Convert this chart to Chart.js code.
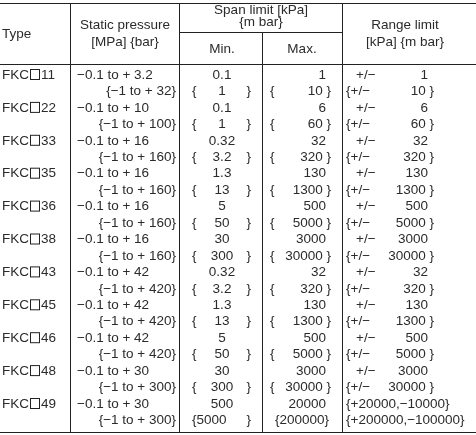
<!DOCTYPE html>
<html><head><meta charset="utf-8">
<script src="https://cdn.jsdelivr.net/npm/chart.js@4"></script>
<style>body{margin:0;background:#fff}#wrap{width:476px;height:435px}</style>
</head><body><div id="wrap"><canvas id="c"></canvas></div>
<script>
// table data, one entry per type
const types = ['11','22','33','35','36','38','43','45','46','48','49'];
const staticMPa = ['3.2','10','16','16','16','16','42','42','42','30','30'];
const staticBar = ['32','100','160','160','160','160','420','420','420','300','300'];
const minKPa = ['0.1','0.1','0.32','1.3','5','30','0.32','1.3','5','30','500'];
const minMbar = ['1','1','3.2','13','50','300','3.2','13','50','300','5000'];
const maxKPa = ['1','6','32','130','500','3000','32','130','500','3000','20000'];
const maxMbar = ['10','60','320','1300','5000','30000','320','1300','5000','30000','200000'];
const rangeKPa = ['1','6','32','130','500','3000','32','130','500','3000','+20000,\u221210000'];
const rangeMbar = ['10','60','320','1300','5000','30000','320','1300','5000','30000','+200000,\u2212100000'];

const FONT = '13.5px "Liberation Sans", Arial, sans-serif';
const INK = '#2b2b2b';

const tablePlugin = {
  id: 'table',
  afterDraw(chart) {
    const ctx = chart.ctx;
    ctx.save();
    ctx.strokeStyle = '#222';
    ctx.fillStyle = INK;
    ctx.font = FONT;
    ctx.textBaseline = 'middle';
    const line = (x1, y1, x2, y2, w) => {
      ctx.lineWidth = w || 1;
      ctx.beginPath(); ctx.moveTo(x1, y1); ctx.lineTo(x2, y2); ctx.stroke();
    };
    const txt = (s, x, y, align) => { ctx.textAlign = align || 'left'; ctx.fillText(s, x, y); };

    // rules
    line(0, 3.5, 476, 3.5);
    line(0, 64.5, 476, 64.5);
    line(179, 32.5, 342, 32.5);
    line(0, 432.5, 476, 432.5);
    line(70.5, 3, 70.5, 432);
    line(179.5, 3, 179.5, 432);
    line(262.5, 33, 262.5, 432);
    line(342.5, 3, 342.5, 432);

    // header
    txt('Type', 2, 34);
    txt('Static pressure', 125, 25, 'center');
    txt('[MPa] {bar}', 125, 42, 'center');
    txt('Span limit [kPa]', 261, 10, 'center');
    txt('{m bar}', 261, 22, 'center');
    txt('Min.', 222, 49, 'center');
    txt('Max.', 302, 49, 'center');
    txt('Range limit', 405, 25, 'center');
    txt('[kPa] {m bar}', 405, 42, 'center');

    const pitch = 16.45;
    const last = types.length - 1;
    types.forEach((t, i) => {
      const y1 = 75 + i * 2 * pitch, y2 = y1 + pitch;
      txt('FKC', 2, y1);
      ctx.lineWidth = 1;
      ctx.strokeRect(30.5, y1 - 5.5, 9, 10);
      txt(t, 41, y1);
      txt('\u22120.1 to + ' + staticMPa[i], 77, y1);
      txt('{\u22121 to + ' + staticBar[i] + '}', 176, y2, 'right');
      txt(minKPa[i], 222, y1, 'center');
      txt('}', 251, y2, 'right');
      if (i === last) {
        txt('{' + minMbar[i], 192, y2);
      } else {
        txt('{', 192, y2);
        txt(minMbar[i], 222, y2, 'center');
      }
      txt(maxKPa[i], 326, y1, 'right');
      if (i === last) {
        txt('{' + maxMbar[i] + '}', 302, y2, 'center');
      } else {
        txt('{', 270, y2); txt(maxMbar[i] + ' }', 331, y2, 'right');
      }
      if (i === last) {
        txt('{' + rangeKPa[i] + '}', 346, y1);
        txt('{' + rangeMbar[i] + '}', 346, y2);
      } else {
        txt('+/\u2212', 356, y1);
        txt(rangeKPa[i], 428, y1, 'right');
        txt('{+/\u2212', 346, y2);
        txt(rangeMbar[i] + ' }', 434, y2, 'right');
      }
    });
    ctx.restore();
  }
};

new Chart(document.getElementById('c'), {
  type: 'bar',
  data: { labels: types, datasets: [] },
  options: {
    responsive: true, maintainAspectRatio: false, animation: false,
    plugins: { legend: { display: false }, tooltip: { enabled: false } },
    scales: { x: { display: false }, y: { display: false } }
  },
  plugins: [tablePlugin]
});
</script></body></html>
